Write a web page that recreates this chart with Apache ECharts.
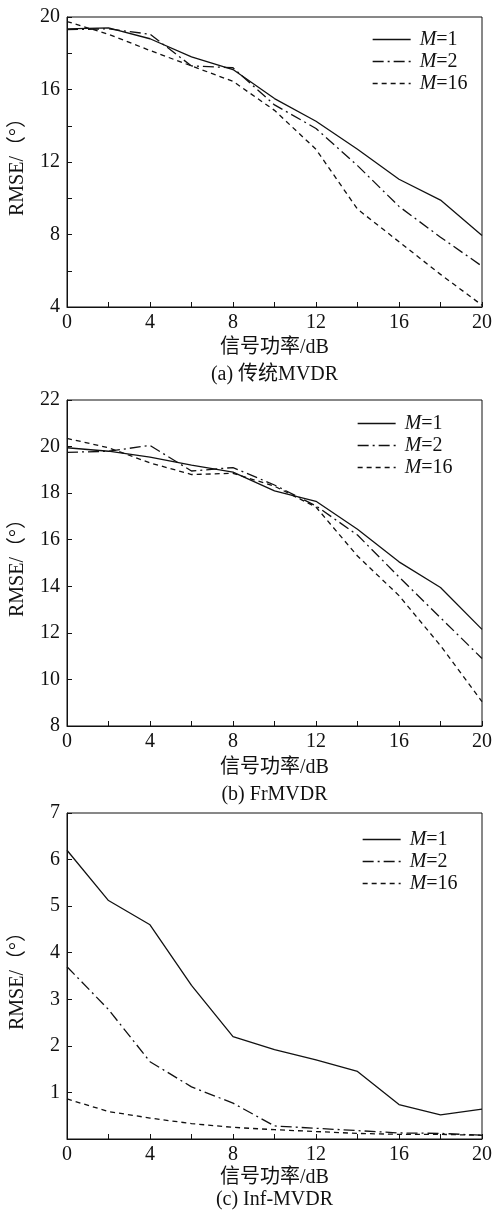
<!DOCTYPE html>
<html>
<head>
<meta charset="utf-8">
<script src="https://cdn.jsdelivr.net/npm/echarts@6/dist/echarts.min.js"></script>
<style>
  html, body { margin: 0; padding: 0; background: #fff; }
  #chart { width: 495px; height: 1211px; }
</style>
</head>
<body>
<div id="chart"></div>
<script>
// signal power (dB)
const snr = [0, 2, 4, 6, 8, 10, 12, 14, 16, 18, 20];
const seriesNames = ["M=1", "M=2", "M=16"];
const captions = ["(a) 传统MVDR", "(b) FrMVDR", "(c) Inf-MVDR"];

// (a) traditional MVDR
const mvdrM1 = [19.35, 19.4, 18.8, 17.8, 17.1, 15.5, 14.25, 12.7, 11.05, 9.9, 7.95];
const mvdrM2 = [19.3, 19.35, 19.05, 17.3, 17.2, 15.15, 13.85, 11.8, 9.55, 7.85, 6.25];
const mvdrM16 = [19.75, 19.05, 18.15, 17.3, 16.45, 14.85, 12.7, 9.4, 7.6, 5.8, 4.1];

// (b) FrMVDR
const frM1 = [19.95, 19.8, 19.55, 19.2, 18.9, 18.1, 17.65, 16.45, 15.05, 13.95, 12.15];
const frM2 = [19.75, 19.8, 20.05, 18.95, 19.1, 18.35, 17.45, 16.2, 14.4, 12.65, 10.9];
const frM16 = [20.35, 19.95, 19.3, 18.8, 18.85, 18.3, 17.4, 15.3, 13.6, 11.45, 9.05];

// (c) Inf-MVDR
const infM1 = [6.2, 5.12, 4.6, 3.3, 2.2, 1.92, 1.7, 1.45, 0.74, 0.52, 0.64];
const infM2 = [3.7, 2.78, 1.66, 1.12, 0.77, 0.28, 0.23, 0.18, 0.13, 0.12, 0.08];
const infM16 = [0.86, 0.59, 0.45, 0.33, 0.25, 0.2, 0.16, 0.12, 0.1, 0.1, 0.08];

const yRanges = [
  { min: 4, max: 20, interval: 2, show: v => v % 4 === 0 },
  { min: 8, max: 22, interval: 2, show: v => true },
  { min: 0, max: 7, interval: 1, show: v => v !== 0 }
];
const panelData = [
  [mvdrM1, mvdrM2, mvdrM16],
  [frM1, frM2, frM16],
  [infM1, infM2, infM16]
];

const FONT = "'Liberation Serif', 'Noto Sans CJK SC', serif";
const black = "#111";
const lineTypes = ["solid", [11, 4, 2, 4], [5, 4]];

// layout of the three panels
const grids = [
  { top: 17, height: 290 },
  { top: 400, height: 326 },
  { top: 813, height: 326 }
];
const xNameGap = [31, 32, 29];
const legendPos = [{ left: 367, top: 24 }, { left: 352, top: 408 }, { left: 357, top: 824 }];
const captionY = [375, 795, 1200];

const option = {
  backgroundColor: "#fff",
  animation: false,
  grid: grids.map(g => ({
    left: 67, width: 415, top: g.top, height: g.height,
    show: true, borderColor: black, borderWidth: 1, backgroundColor: "transparent"
  })),
  xAxis: grids.map((g, i) => ({
    type: "value", gridIndex: i, min: 0, max: 20, interval: 2,
    name: "信号功率/dB", nameLocation: "middle", nameGap: xNameGap[i],
    nameTextStyle: { fontFamily: FONT, fontSize: 20, color: black },
    axisLine: { lineStyle: { color: black, width: 1 } },
    axisTick: { inside: true, length: 5, lineStyle: { color: black } },
    axisLabel: {
      margin: 6, fontFamily: FONT, fontSize: 20, color: black,
      formatter: v => (v % 4 === 0 ? String(v) : "")
    },
    splitLine: { show: false }
  })),
  yAxis: yRanges.map((r, i) => ({
    type: "value", gridIndex: i, min: r.min, max: r.max, interval: r.interval,
    name: "RMSE/（°）", nameLocation: "middle", nameGap: 39, nameRotate: 90,
    nameTextStyle: { fontFamily: FONT, fontSize: 20, color: black },
    axisLine: { lineStyle: { color: black, width: 1 } },
    axisTick: { inside: true, length: 5, lineStyle: { color: black } },
    axisLabel: {
      margin: 7, fontFamily: FONT, fontSize: 20, color: black,
      formatter: v => (r.show(v) ? String(v) : "")
    },
    splitLine: { show: false }
  })),
  legend: legendPos.map(p => ({
    left: p.left, top: p.top, orient: "vertical",
    data: seriesNames, itemWidth: 38, itemHeight: 14, itemGap: 1,
    itemStyle: { opacity: 0 },
    lineStyle: { width: 1.3 },
    formatter: name => "{i|M}" + name.slice(1),
    textStyle: {
      fontFamily: FONT, fontSize: 20, color: black, lineHeight: 21, padding: [0, 0, 0, 4],
      rich: { i: { fontFamily: FONT, fontStyle: "italic", fontSize: 20, color: black } }
    }
  })),
  series: [],
  graphic: captions.map((c, i) => ({
    type: "text", x: 274.5, y: captionY[i],
    style: {
      text: c, fontFamily: FONT, fontSize: 20, fill: black,
      textAlign: "center", textVerticalAlign: "middle"
    }
  }))
};

panelData.forEach((arrs, gi) => {
  arrs.forEach((vals, si) => {
    option.series.push({
      type: "line", name: seriesNames[si], xAxisIndex: gi, yAxisIndex: gi,
      data: snr.map((x, k) => [x, vals[k]]),
      symbol: "none", smooth: false,
      lineStyle: { color: black, width: 1.3, type: lineTypes[si] },
      itemStyle: { color: black }
    });
  });
});

const chart = echarts.init(document.getElementById("chart"), null, { renderer: "canvas" });
chart.setOption(option);
</script>
</body>
</html>
